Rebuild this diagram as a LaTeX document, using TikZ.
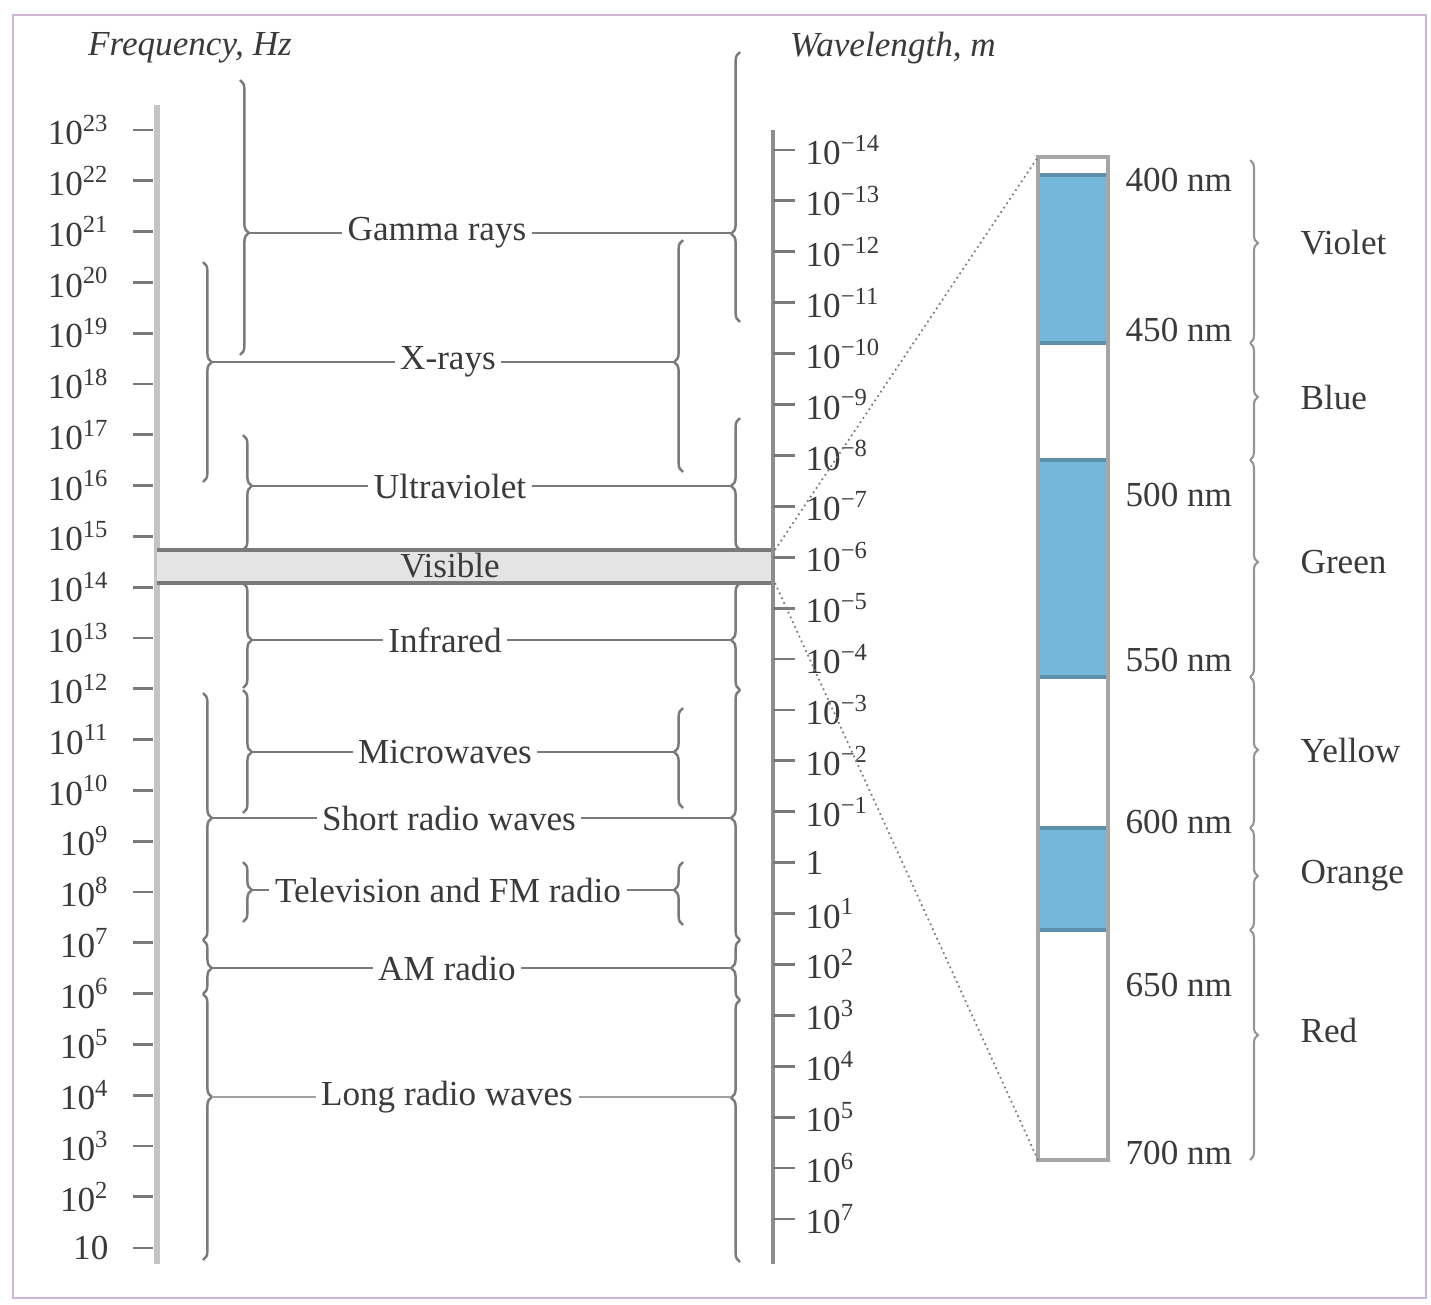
\documentclass[tikz,border=0pt]{standalone}
\usepackage{fontspec}
\setmainfont{Liberation Serif}
\usetikzlibrary{decorations.pathreplacing}
\definecolor{linecol}{HTML}{7A7A7A}
\definecolor{txtcol}{HTML}{3A3A3A}
\definecolor{axcol}{HTML}{C4C4C4}
\definecolor{raxcol}{HTML}{8E8E8E}
\definecolor{framecol}{HTML}{CFB6D8}
\definecolor{bandfill}{HTML}{E4E4E4}
\definecolor{bluefill}{HTML}{74B7DA}
\definecolor{blueedge}{HTML}{5D91AB}
\begin{document}
\begin{tikzpicture}[x=0.02cm,y=-0.02cm,
  every node/.style={text=txtcol, font=\fontsize{20}{24}\selectfont, inner sep=3pt},
  conn/.style={draw=linecol, line width=1.4pt},
  brc/.style={draw=linecol, line width=1.4pt, decorate,
    decoration={brace, amplitude=5pt, aspect=#1}},
  cbrc/.style={draw=linecol!80, line width=1.2pt, decorate,
    decoration={brace, amplitude=4.5pt, aspect=#1}},
  tickl/.style={draw=linecol, line width=1.6pt},
  zoomline/.style={draw=linecol, line width=1pt, dotted},
  barline/.style={draw=gray!70, line width=2.5pt},
  bandedge/.style={draw=blueedge, line width=2.5pt}
]
\useasboundingbox (0,0) rectangle (1431,1305);
% frame
\draw[framecol, line width=1.6pt] (13,15) rectangle (1426,1298);

% headers
\node (fhead) at (190,48) {\itshape Frequency, Hz};
\node (whead) at (893,48) {\itshape Wavelength, m};

% left axis
\draw[axcol, line width=3.5pt] (157,105) -- (157,1264);
\foreach \k in {0,...,21}{
  \pgfmathtruncatemacro{\ex}{23-\k}
  \node[anchor=east] (f\k) at (114,130+50.8*\k) {10\textsuperscript{\ex}};
  \draw[tickl] (133,130+50.8*\k) -- (153,130+50.8*\k);
}
\node[anchor=east] (f22) at (114,1248) {10};
\draw[tickl] (133,1248) -- (153,1248);

% ---- bands ----
% Gamma rays
\draw[brc=0.556] (240,80) -- (240,355);
\draw[brc=0.327] (740,322) -- (740,52);
\coordinate (gL) at (249,233);
\coordinate (gR) at (731,233);
\node (gamma) at (437,233) {Gamma rays};
\draw[conn] (gL) -- (gamma);
\draw[conn] (gamma) -- (gR);

% X-rays
\draw[brc=0.455] (203,262) -- (203,482);
\draw[brc=0.474] (683,472) -- (683,240);
\coordinate (xL) at (212,362);
\coordinate (xR) at (674,362);
\node (xray) at (448,362) {X-rays};
\draw[conn] (xL) -- (xray);
\draw[conn] (xray) -- (xR);

% Ultraviolet
\draw[brc=0.443] (243,435) -- (243,550);
\draw[brc=0.485] (740,550) -- (740,418);
\coordinate (uL) at (252,486);
\coordinate (uR) at (731,486);
\node (uv) at (450,486) {Ultraviolet};
\draw[conn] (uL) -- (uv);
\draw[conn] (uv) -- (uR);

% Infrared
\draw[brc=0.543] (243,583) -- (243,688);
\draw[brc=0.467] (740,690) -- (740,583);
\coordinate (iL) at (252,640);
\coordinate (iR) at (731,640);
\node (ir) at (445,640) {Infrared};
\draw[conn] (iL) -- (ir);
\draw[conn] (ir) -- (iR);

% Microwaves
\draw[brc=0.504] (243,690) -- (243,813);
\draw[brc=0.56] (683,808) -- (683,708);
\coordinate (mL) at (252,752);
\coordinate (mR) at (674,752);
\node (mw) at (445,752) {Microwaves};
\draw[conn] (mL) -- (mw);
\draw[conn] (mw) -- (mR);

% Short radio waves
\draw[brc=0.506] (203,693) -- (203,940);
\draw[brc=0.488] (740,940) -- (740,690);
\coordinate (sL) at (212,818);
\coordinate (sR) at (731,818);
\node (srw) at (449,818) {Short radio waves};
\draw[conn] (sL) -- (srw);
\draw[conn] (srw) -- (sR);

% Television and FM radio
\draw[brc=0.467] (243,862) -- (243,922);
\draw[brc=0.556] (683,925) -- (683,862);
\coordinate (tL) at (252,890);
\coordinate (tR) at (674,890);
\node (tv) at (448,890) {Television and FM radio};
\draw[conn] (tL) -- (tv);
\draw[conn] (tv) -- (tR);

% AM radio
\draw[brc=0.52] (203,940) -- (203,994);
\draw[brc=0.533] (740,1000) -- (740,940);
\coordinate (aL) at (212,968);
\coordinate (aR) at (731,968);
\node (am) at (447,968) {AM radio};
\draw[conn] (aL) -- (am);
\draw[conn] (am) -- (aR);

% Long radio waves
\draw[brc=0.387] (203,994) -- (203,1260);
\draw[brc=0.627] (740,1262) -- (740,1000);
\coordinate (lL) at (212,1097);
\coordinate (lR) at (731,1097);
\node (lrw) at (447,1097) {Long radio waves};
\draw[conn, draw=linecol!70] (lL) -- (lrw);
\draw[conn, draw=linecol!70] (lrw) -- (lR);

% Visible band
\fill[bandfill] (157,550) rectangle (775,583);
\draw[linecol, line width=2pt] (157,550) -- (775,550);
\draw[linecol, line width=2pt] (157,583) -- (775,583);
\node (vis) at (450,566) {Visible};
\coordinate (visTR) at (775,550);
\coordinate (visBR) at (775,583);

% right axis
\draw[raxcol, line width=2.8pt] (773,130) -- (773,1264);
\foreach \j in {0,...,13}{
  \pgfmathtruncatemacro{\ex}{14-\j}
  \node[anchor=west] (w\j) at (800,150+50.9*\j) {10\textsuperscript{−\ex}};
  \draw[tickl] (773,150+50.9*\j) -- (795,150+50.9*\j);
}
\node[anchor=west] (w14) at (800,862.6) {1};
\draw[tickl] (773,862.6) -- (795,862.6);
\foreach \j in {15,...,21}{
  \pgfmathtruncatemacro{\ex}{\j-14}
  \node[anchor=west] (w\j) at (800,150+50.9*\j) {10\textsuperscript{\ex}};
  \draw[tickl] (773,150+50.9*\j) -- (795,150+50.9*\j);
}

% ---- visible spectrum panel ----
\coordinate (barTL) at (1038,157);
\coordinate (barBL) at (1038,1160);
\fill[white] (1038,157) rectangle (1108,1160);
\fill[bluefill] (1038,175) rectangle (1108,343);
\fill[bluefill] (1038,460) rectangle (1108,677);
\fill[bluefill] (1038,828) rectangle (1108,930);
\draw[bandedge] (1038,175) -- (1108,175);
\draw[bandedge] (1038,343) -- (1108,343);
\draw[bandedge] (1038,460) -- (1108,460);
\draw[bandedge] (1038,677) -- (1108,677);
\draw[bandedge] (1038,828) -- (1108,828);
\draw[bandedge] (1038,930) -- (1108,930);
\draw[barline] (1038,157) rectangle (1108,1160);

\draw[zoomline] (visTR) -- (barTL);
\draw[zoomline] (visBR) -- (barBL);

\node[anchor=west] (n400) at (1120,180) {400 nm};
\node[anchor=west] (n450) at (1120,330) {450 nm};
\node[anchor=west] (n500) at (1120,495) {500 nm};
\node[anchor=west] (n550) at (1120,660) {550 nm};
\node[anchor=west] (n600) at (1120,822) {600 nm};
\node[anchor=west] (n650) at (1120,985) {650 nm};
\node[anchor=west] (n700) at (1120,1153) {700 nm};

\draw[cbrc=0.454] (1250,160) -- (1250,343);
\draw[cbrc=0.462] (1250,343) -- (1250,460);
\draw[cbrc=0.47] (1250,460) -- (1250,677);
\draw[cbrc=0.483] (1250,677) -- (1250,828);
\draw[cbrc=0.47] (1250,828) -- (1250,930);
\draw[cbrc=0.457] (1250,930) -- (1250,1160);

\node[anchor=west] (cviolet) at (1295,243) {Violet};
\node[anchor=west] (cblue) at (1295,397) {Blue};
\node[anchor=west] (cgreen) at (1295,562) {Green};
\node[anchor=west] (cyellow) at (1295,750) {Yellow};
\node[anchor=west] (corange) at (1295,876) {Orange};
\node[anchor=west] (cred) at (1295,1030) {Red};
\end{tikzpicture}
\end{document}
